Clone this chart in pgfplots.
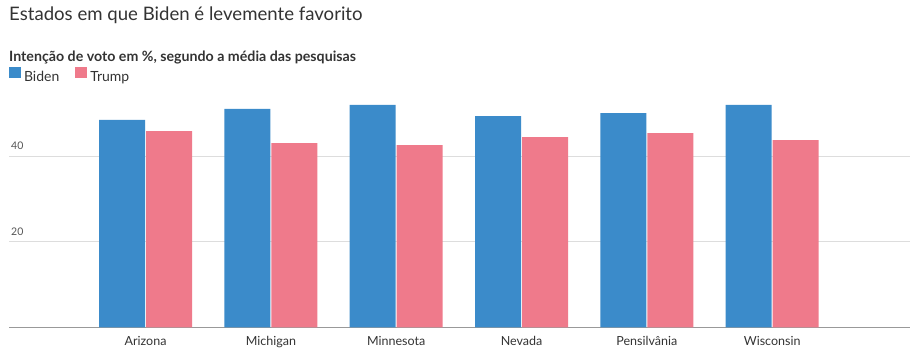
\documentclass[border=0pt]{standalone}
\usepackage{fontspec}
\setmainfont{Lato}
\usepackage{pgfplots}
\pgfplotsset{compat=1.18}
\definecolor{biden}{HTML}{3B8BCA}
\definecolor{trump}{HTML}{EF7A8B}
\definecolor{txt}{HTML}{333333}
\definecolor{ticktxt}{HTML}{555555}
\definecolor{gridc}{HTML}{DDDDDD}
\definecolor{axisc}{HTML}{999999}
\begin{document}
\begin{tikzpicture}[x=1pt,y=1pt]
\path[use as bounding box] (0,0) rectangle (911,-351);
\node[anchor=base west, inner sep=0pt, font=\fontsize{18.6}{22}\selectfont, text=txt] at (9,-20.7) {Estados em que Biden é levemente favorito};
\node[anchor=base west, inner sep=0pt, font=\fontsize{14.2}{16}\selectfont\bfseries, text=txt] at (9,-61) {Intenção de voto em \%, segundo a média das pesquisas};
\begin{axis}[
  at={(9pt,-327.3pt)}, anchor=south west,
  scale only axis, width=901pt, height=230.9pt,
  xmin=-1.09, xmax=6.10, ymin=0, ymax=54,
  ybar=1pt, bar width=46pt,
  axis lines*=left,
  x axis line style={axisc, line width=1.2pt},
  y axis line style={draw=none},
  major tick length=0pt,
  ymajorgrids, grid style={gridc, line width=0.8pt},
  ytick={20,40},
  xtick={0,1,2,3,4,5},
  xticklabels={Arizona,Michigan,Minnesota,Nevada,Pensilvânia,Wisconsin},
  xticklabel style={anchor=base, yshift=-17.7pt, inner sep=0pt, font=\fontsize{12.5}{14}\selectfont, text=txt},
  yticklabel style={anchor=base west, xshift=2pt, yshift=6.4pt, inner sep=0pt, font=\fontsize{10.5}{12}\selectfont, text=ticktxt},
  /pgf/number format/assume math mode=true,
  legend columns=2,
  legend style={draw=none, fill=none, at={(0,1.1252)}, anchor=north west, inner sep=0pt, outer sep=0pt,
    font=\fontsize{14}{16}\selectfont, text=txt,
    nodes={inner sep=0pt, text=txt},
    /tikz/every even column/.append style={column sep=16pt}},
  legend image code/.code={\fill[#1] (0pt,-1pt) rectangle (12pt,10pt);},
  legend cell align=left,
]
\addplot[fill=biden, draw=none] coordinates {(0,48.5) (1,51.1) (2,52.0) (3,49.4) (4,50.1) (5,52.0)};
\addplot[fill=trump, draw=none] coordinates {(0,45.9) (1,43.1) (2,42.6) (3,44.5) (4,45.4) (5,43.8)};
\legend{\hspace*{3pt}Biden,\hspace*{3pt}Trump}
\end{axis}
\end{tikzpicture}
\end{document}
